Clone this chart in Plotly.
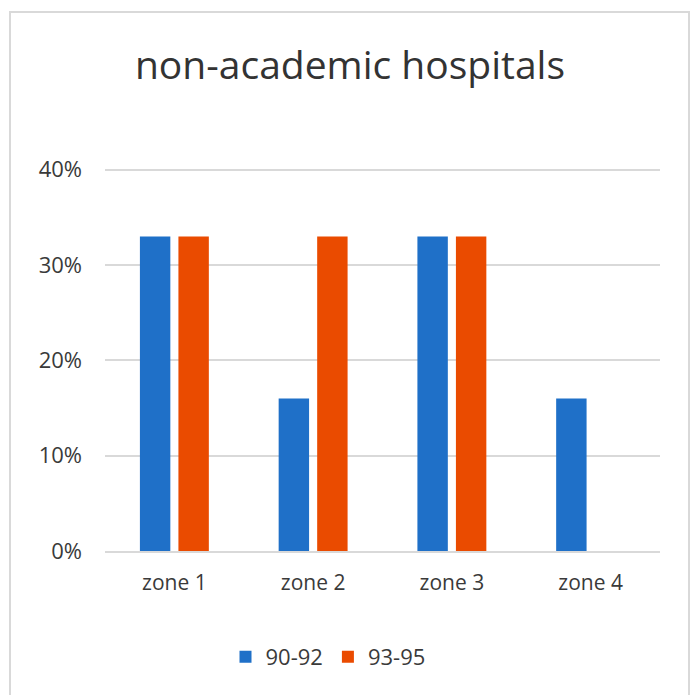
import plotly.graph_objects as go

categories = ["zone 1", "zone 2", "zone 3", "zone 4"]
series_names = ["90-92", "93-95"]
values_90_92 = [0.33, 0.16, 0.33, 0.16]
values_93_95 = [0.33, 0.33, 0.33, 0.0]
colors = ["#1f70c8", "#ea4b00"]
y_ticks = [0, 0.1, 0.2, 0.3, 0.4]
y_tick_labels = ["0%", "10%", "20%", "30%", "40%"]

W, H = 692, 695
L, R, T, B = 105, 32, 165, 144
pw, ph = W - L - R, H - T - B

fig = go.Figure()
for name, vals, col in zip(series_names, [values_90_92, values_93_95], colors):
    fig.add_trace(go.Bar(x=categories, y=vals, name=name, marker=dict(color=col, line=dict(width=0))))

font_family = "Open Sans, sans-serif"

def px_x(x):
    return (x - L) / pw

def px_y(y):
    return (H - B - y) / ph

fig.update_layout(
    width=W, height=H,
    margin=dict(l=L, r=R, t=T, b=B, autoexpand=False),
    paper_bgcolor="white", plot_bgcolor="white",
    barmode="group", bargap=0.445, bargroupgap=0.21,
    title=dict(text="non-academic hospitals", x=350 / W, xanchor="center",
               y=1 - 65 / H, yanchor="middle", yref="container",
               font=dict(family=font_family, size=39, color="#333333")),
    font=dict(family=font_family, color="#3a3a3a"),
    xaxis=dict(showgrid=False, showline=True, linecolor="#d9d9d9", linewidth=1.5,
               ticks="", tickfont=dict(size=21, color="#3a3a3a"), ticklabelstandoff=12),
    yaxis=dict(range=[0, 0.405], tickvals=y_ticks, ticktext=y_tick_labels,
               showgrid=True, gridcolor="#d9d9d9", gridwidth=1.5, zeroline=False,
               ticks="", tickfont=dict(size=22, color="#3a3a3a"), ticklabelstandoff=22),
    legend=dict(orientation="h", x=328 / W, xanchor="center", y=1 - 657 / H, yanchor="middle",
                xref="container", yref="container",
                font=dict(size=22, color="#3a3a3a"), itemwidth=30, traceorder="normal"),
    shapes=[dict(type="rect", xref="paper", yref="paper",
                 x0=px_x(10), x1=px_x(689), y0=px_y(12), y1=px_y(705),
                 line=dict(color="#d9d9d9", width=2), fillcolor="rgba(0,0,0,0)", layer="below")],
)

fig.write_html("out.html")
